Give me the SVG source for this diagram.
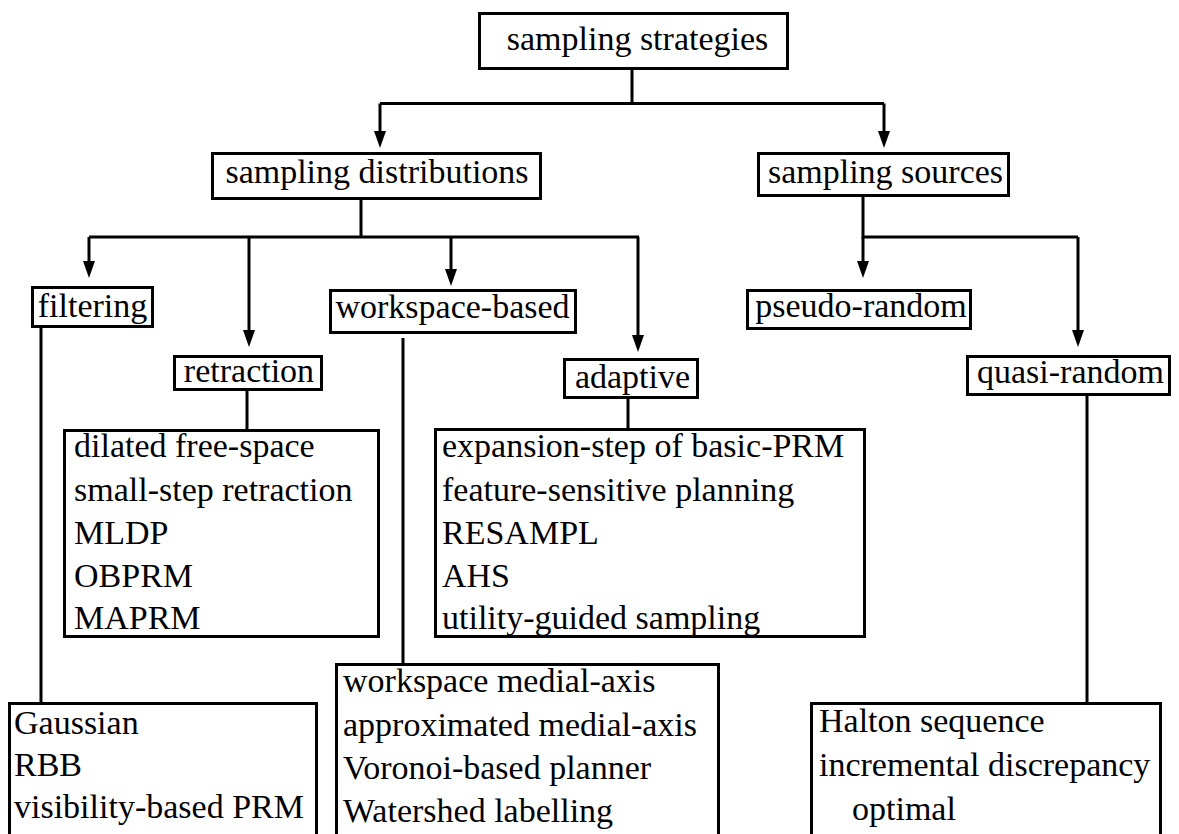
<svg xmlns="http://www.w3.org/2000/svg" width="1179" height="834" viewBox="0 0 1179 834">
<style>
.box{fill:#fff;stroke:#000;stroke-width:3}
.ln{fill:none;stroke:#000;stroke-width:3}
</style>
<defs>
<marker id="ah" viewBox="0 0 17 12" refX="11" refY="6" markerWidth="17" markerHeight="12" markerUnits="userSpaceOnUse" orient="auto">
<path d="M0,0 L17,6 L0,12 Z" fill="#000"/>
</marker>
</defs>
<rect width="1179" height="834" fill="#fff"/>
<g id="connectors">
<path class="ln" d="M632,69 V103.5 M380,103.5 H884"/>
<path class="ln" d="M380,103.5 V142" marker-end="url(#ah)"/>
<path class="ln" d="M884,103.5 V142" marker-end="url(#ah)"/>
<path class="ln" d="M361,200 V237 M89,237 H639"/>
<path class="ln" d="M89,237 V272" marker-end="url(#ah)"/>
<path class="ln" d="M249,237 V341" marker-end="url(#ah)"/>
<path class="ln" d="M451,237 V280" marker-end="url(#ah)"/>
<path class="ln" d="M638,237 V346" marker-end="url(#ah)"/>
<path class="ln" d="M863,197 V237 H1078"/>
<path class="ln" d="M863,237 V272" marker-end="url(#ah)"/>
<path class="ln" d="M1078,237 V341" marker-end="url(#ah)"/>
<path class="ln" d="M41,328 V702"/>
<path class="ln" d="M247,391 V430"/>
<path class="ln" d="M403,338 V663"/>
<path class="ln" d="M628,399 V428"/>
<path class="ln" d="M1087,396 V702"/>
</g>
<g id="n-strategies"><rect class="box" x="479.5" y="13.5" width="308" height="55"/><text font-family="Liberation Serif" font-size="34" text-anchor="middle" x="637.5" y="50">sampling strategies</text></g>
<g id="n-distributions"><rect class="box" x="212.5" y="153.5" width="328" height="45"/><text font-family="Liberation Serif" font-size="34" text-anchor="middle" x="377" y="183">sampling distributions</text></g>
<g id="n-sources"><rect class="box" x="758.5" y="153.5" width="250" height="42"/><text font-family="Liberation Serif" font-size="34" text-anchor="middle" x="885.5" y="183">sampling sources</text></g>
<g id="n-filtering"><rect class="box" x="32.5" y="287.5" width="120" height="39"/><text font-family="Liberation Serif" font-size="34" text-anchor="middle" x="92.5" y="317">filtering</text></g>
<g id="n-workspace"><rect class="box" x="330.5" y="290.5" width="245" height="42"/><text font-family="Liberation Serif" font-size="34" text-anchor="middle" x="452.5" y="318">workspace-based</text></g>
<g id="n-retraction"><rect class="box" x="174.5" y="356.5" width="147" height="33"/><text font-family="Liberation Serif" font-size="34" text-anchor="middle" x="249" y="382">retraction</text></g>
<g id="n-adaptive"><rect class="box" x="564.5" y="359.5" width="133" height="38"/><text font-family="Liberation Serif" font-size="34" text-anchor="middle" x="632.5" y="388">adaptive</text></g>
<g id="n-pseudo"><rect class="box" x="747.5" y="290.5" width="223" height="38"/><text font-family="Liberation Serif" font-size="34" text-anchor="middle" x="861" y="317">pseudo-random</text></g>
<g id="n-quasi"><rect class="box" x="967.5" y="356.5" width="202" height="38"/><text font-family="Liberation Serif" font-size="34" text-anchor="middle" x="1070.5" y="383">quasi-random</text></g>
<g id="n-retraction-list"><rect class="box" x="64.5" y="430.5" width="314" height="206"/>
<text font-family="Liberation Serif" font-size="34" x="74" y="457">dilated free-space</text>
<text font-family="Liberation Serif" font-size="34" x="74" y="501">small-step retraction</text>
<text font-family="Liberation Serif" font-size="34" x="74" y="544">MLDP</text>
<text font-family="Liberation Serif" font-size="34" x="74" y="587">OBPRM</text>
<text font-family="Liberation Serif" font-size="34" x="74" y="629">MAPRM</text></g>
<g id="n-adaptive-list"><rect class="box" x="435.5" y="429.5" width="429" height="207"/>
<text font-family="Liberation Serif" font-size="34" x="442" y="457">expansion-step of basic-PRM</text>
<text font-family="Liberation Serif" font-size="34" x="442" y="501">feature-sensitive planning</text>
<text font-family="Liberation Serif" font-size="34" x="442" y="544">RESAMPL</text>
<text font-family="Liberation Serif" font-size="34" x="442" y="587">AHS</text>
<text font-family="Liberation Serif" font-size="34" x="442" y="629">utility-guided sampling</text></g>
<g id="n-filtering-list"><rect class="box" x="9.5" y="703.5" width="307" height="200"/>
<text font-family="Liberation Serif" font-size="34" x="14" y="734">Gaussian</text>
<text font-family="Liberation Serif" font-size="34" x="14" y="776">RBB</text>
<text font-family="Liberation Serif" font-size="34" x="14" y="818">visibility-based PRM</text></g>
<g id="n-workspace-list"><rect class="box" x="336.5" y="664.5" width="382" height="240"/>
<text font-family="Liberation Serif" font-size="34" x="343" y="692">workspace medial-axis</text>
<text font-family="Liberation Serif" font-size="34" x="343" y="736">approximated medial-axis</text>
<text font-family="Liberation Serif" font-size="34" x="343" y="779">Voronoi-based planner</text>
<text font-family="Liberation Serif" font-size="34" x="343" y="822">Watershed labelling</text></g>
<g id="n-quasi-list"><rect class="box" x="811.5" y="703.5" width="349" height="200"/>
<text font-family="Liberation Serif" font-size="34" x="819" y="732">Halton sequence</text>
<text font-family="Liberation Serif" font-size="34" x="819" y="776">incremental discrepancy</text>
<text font-family="Liberation Serif" font-size="34" x="852" y="820">optimal</text></g>
</svg>
